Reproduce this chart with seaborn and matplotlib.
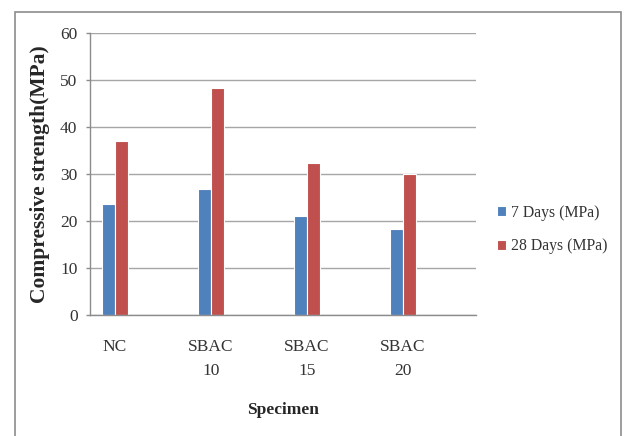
import matplotlib
matplotlib.use("Agg")
import matplotlib.pyplot as plt
import seaborn as sns
import pandas as pd
from matplotlib.patches import Rectangle

# Compressive strength results per specimen
specimens = ["NC", "SBAC\n10", "SBAC\n15", "SBAC\n20"]
days_7 = [23.6, 26.9, 21.0, 18.3]
days_28 = [37.1, 48.2, 32.3, 30.0]
series_names = ["7 Days (MPa)", "28 Days (MPa)"]
y_ticks = [0, 10, 20, 30, 40, 50, 60]

df = pd.DataFrame({
    "Specimen": specimens * 2,
    "Strength": days_7 + days_28,
    "Series": [series_names[0]] * len(specimens) + [series_names[1]] * len(specimens),
})

sns.set_style("white")
plt.rcParams["font.family"] = ["Liberation Serif", "DejaVu Serif"]

fig = plt.figure(figsize=(6.25, 4.36), dpi=100)
ax = fig.add_axes([0.144, 0.2768, 0.617, 0.6482])

palette = {series_names[0]: "#4F81BD", series_names[1]: "#C0504D"}
sns.barplot(data=df, x="Specimen", y="Strength", hue="Series", palette=palette,
            width=0.28, gap=0, dodge=True, ax=ax, saturation=1,
            edgecolor="none", legend=True)

# light outline on bars, as in office-style charts
for p in ax.patches:
    p.set_linewidth(0.8)
    p.set_edgecolor("#ffffff")

ax.set_xlim(-0.26, 3.757)
ax.set_ylim(0, 60)
ax.set_yticks(y_ticks)
ax.yaxis.grid(True, color="#A6A6A6", linewidth=1.0)
ax.set_axisbelow(True)

for s in ["top", "right"]:
    ax.spines[s].set_visible(False)
for s in ["left", "bottom"]:
    ax.spines[s].set_color("#8C8C8C")
    ax.spines[s].set_linewidth(1.0)

ax.tick_params(axis="y", length=3, width=1.0, color="#8C8C8C", pad=6,
               labelsize=12.5, labelcolor="#333333", left=True)
ax.tick_params(axis="x", length=0, pad=17, labelsize=12.5, labelcolor="#333333")
for lbl in ax.get_xticklabels():
    lbl.set_linespacing(1.7)

ax.set_ylabel("Compressive strength(MPa)", fontsize=15.5, fontweight="bold", labelpad=7)
ax.set_xlabel("Specimen", fontsize=12.5, fontweight="bold", labelpad=16)

handles, labels = ax.get_legend_handles_labels()
ax.legend(handles, labels, loc="center left", bbox_to_anchor=(0.782, 0.4735),
          bbox_transform=fig.transFigure, frameon=False, fontsize=11.3,
          handlelength=0.6, handleheight=0.6, handletextpad=0.3,
          labelspacing=1.1, labelcolor="#333333", borderpad=0)

# chart-area border
fig.patches.append(Rectangle((15 / 625, -0.05), (620.7 - 15) / 625, 1.05 - 12 / 436,
                             transform=fig.transFigure, fill=False,
                             edgecolor="#8C8C8C", linewidth=1.2, clip_on=False))

fig.savefig("out.png", dpi=100)
